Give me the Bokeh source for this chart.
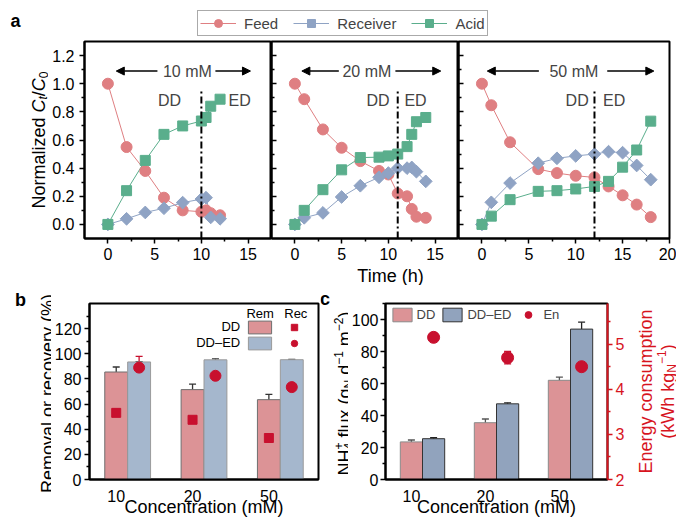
import math
import numpy as np
from bokeh.plotting import figure
from bokeh.layouts import column, row
from bokeh.models import (Range1d, FixedTicker, LinearAxis, Label, Legend, LegendItem,
                          ColumnDataSource, Whisker, TeeHead, Arrow, NormalHead,
                          CustomJSTickFormatter, NumeralTickFormatter)
from bokeh.embed import file_html
from bokeh.resources import INLINE

FONT = "Liberation Sans"

# ---------------- data: panel a ----------------
time_10 = [0, 2, 4, 6, 8, 10, 10.5, 11, 12]
feed_10 = [1.0, 0.55, 0.38, 0.19, 0.10, 0.09, 0.10, 0.08, 0.065]
recv_10 = [0.0, 0.04, 0.085, 0.115, 0.155, 0.18, 0.19, 0.05, 0.04]
acid_10 = [0.0, 0.24, 0.455, 0.64, 0.70, 0.735, 0.76, 0.84, 0.89]

time_20 = [0, 1, 3, 5, 7, 9, 10, 11, 12, 12.5, 13, 14]
feed_20 = [1.0, 0.89, 0.675, 0.545, 0.45, 0.38, 0.355, 0.22, 0.20, 0.11, 0.055, 0.047]
recv_20 = [0.0, 0.047, 0.082, 0.195, 0.275, 0.335, 0.365, 0.40, 0.40, 0.405, 0.375, 0.306]
acid_20 = [0.0, 0.10, 0.247, 0.388, 0.475, 0.478, 0.487, 0.50, 0.553, 0.64, 0.73, 0.76]

time_50 = [0, 1, 3, 6, 8, 10, 12, 13.5, 15, 16.5, 18]
feed_50 = [1.0, 0.847, 0.584, 0.393, 0.365, 0.346, 0.334, 0.27, 0.207, 0.141, 0.052]
recv_50 = [0.0, 0.157, 0.294, 0.435, 0.47, 0.487, 0.50, 0.517, 0.51, 0.419, 0.318]
acid_50 = [0.0, 0.059, 0.176, 0.235, 0.24, 0.252, 0.27, 0.306, 0.407, 0.529, 0.734]

feed_conc_labels = ["10 mM", "20 mM", "50 mM"]
switch_time = [10, 11, 12]

# ---------------- data: panels b, c ----------------
concentrations = ["10", "20", "50"]
dd_removal = [85.5, 71.5, 63.5]
dd_removal_err = [4.0, 4.4, 4.2]
dded_removal = [93.5, 95.2, 95.3]
dded_removal_err = [0.0, 0.8, 0.3]
dd_recovery = [53.0, 47.5, 33.0]
dd_recovery_err = [4.6, 6.0, 4.4]
dded_recovery = [89.0, 82.5, 73.5]
dded_recovery_err = [9.0, 3.3, 5.6]

dd_flux = [23.5, 35.5, 62.0]
dd_flux_err = [1.2, 2.3, 2.0]
dded_flux = [25.5, 47.3, 94.0]
dded_flux_err = [0.6, 0.6, 4.3]
energy = [5.15, 4.70, 4.50]
energy_err = [0.10, 0.14, 0.28]

# ---------------- style ----------------
FEED = "#df7f82"
RECV = "#8fa3c4"
ACID = "#5aae8c"
PINK = "#dc9396"
BLUE_B = "#a5b7cd"
BLUE_C = "#91a3bd"
RED = "#c8102e"
AXRED = "#d7141e"

W_EM = {' ': 0.278, '(': 0.333, ')': 0.333, '/': 0.278, '+': 0.584, '\u2212': 0.584, '%': 0.889,
        'C': 0.722, 'N': 0.722, 'H': 0.722, 'W': 0.944, 'E': 0.667, 'R': 0.722,
        'a': 0.556, 'c': 0.5, 'd': 0.556, 'e': 0.556, 'f': 0.278, 'g': 0.556, 'h': 0.556,
        'i': 0.222, 'k': 0.5, 'l': 0.222, 'm': 0.833, 'n': 0.556, 'o': 0.556, 'p': 0.556,
        'r': 0.333, 's': 0.5, 't': 0.278, 'u': 0.556, 'v': 0.5, 'x': 0.5, 'y': 0.5, 'z': 0.5}
for _d in "0123456789":
    W_EM[_d] = 0.556


def tw(s, size):
    return sum(W_EM.get(ch, 0.556) for ch in s) * size


def plabel(p, fl, fb, px, py, text, size=16, color="black", align="center",
           baseline="middle", angle=0.0, style="normal"):
    """Label placed by page position; (fl, fb) = page x of frame left, page y of frame bottom."""
    p.add_layout(Label(x=px - fl, y=fb - py, x_units="screen", y_units="screen", text=text,
                       angle=angle, text_align=align, text_baseline=baseline,
                       text_font=FONT, text_font_size=f"{size}px", text_font_style=style,
                       text_color=color))


def vtext(p, fl, fb, base_x, center_y, pieces, color="black"):
    """Vertical (rotated 90deg) rich text built from pieces."""
    advs = [pc[4] if len(pc) > 4 else tw(pc[0], pc[1]) for pc in pieces]
    y = center_y + sum(advs) / 2.0
    for pc, adv in zip(pieces, advs):
        txt, size, style, shift = pc[:4]
        lead = len(txt) - len(txt.lstrip(" "))
        yy = y - tw(" " * lead, size)
        plabel(p, fl, fb, base_x + shift, yy, txt.strip(" "), size=size, color=color,
               align="left", baseline="alphabetic", angle=math.pi / 2, style=style)
        y -= adv


def style_axis(ax, ticks, minor, inward=False, labels=True, color="black", fmt=None):
    ax.ticker = FixedTicker(ticks=ticks, minor_ticks=minor)
    ax.axis_line_color = color
    ax.axis_line_width = 2
    ax.major_tick_line_color = color
    ax.minor_tick_line_color = color
    ax.major_tick_line_width = 1.5
    ax.minor_tick_line_width = 1.5
    if inward:
        ax.major_tick_in, ax.major_tick_out = 5, 0
        ax.minor_tick_in, ax.minor_tick_out = 3, 0
    else:
        ax.major_tick_in, ax.major_tick_out = 0, 5
        ax.minor_tick_in, ax.minor_tick_out = 0, 3
    ax.major_label_text_font = FONT
    ax.major_label_text_font_size = "16px"
    ax.major_label_text_color = color
    if not labels:
        ax.formatter = CustomJSTickFormatter(code="return ''")
        ax.major_label_standoff = 0
    elif fmt is not None:
        ax.formatter = fmt


def base_fig(width, height, xr, yr, bl, br, bt, bb):
    p = figure(width=width, height=height, x_range=Range1d(*xr), y_range=Range1d(*yr),
               output_backend="svg", toolbar_location=None,
               min_border_left=bl, min_border_right=br, min_border_top=bt, min_border_bottom=bb)
    p.grid.visible = False
    p.outline_line_color = "black"
    p.outline_line_width = 2
    p.background_fill_color = "white"
    p.border_fill_color = "white"
    return p


def strip(width, height):
    """Plot without axes whose frame is the whole canvas; holds free text."""
    s = figure(width=width, height=height, x_range=Range1d(0, 1), y_range=Range1d(0, 1),
               output_backend="svg", toolbar_location=None, min_border=0,
               x_axis_location=None, y_axis_location=None)
    s.grid.visible = False
    s.outline_line_color = None
    try:
        s.frame_align = False
    except Exception:
        pass
    return s


# ---------------- header (legend of panel a) ----------------
hdr = strip(676, 38)
nan_src = ColumnDataSource(dict(x=[np.nan], y=[np.nan]))
lf = hdr.line("x", "y", source=nan_src, color=FEED, line_width=1)
sf = hdr.scatter("x", "y", source=nan_src, marker="circle", size=11, color=FEED)
lr = hdr.line("x", "y", source=nan_src, color=RECV, line_width=1)
sr = hdr.scatter("x", "y", source=nan_src, marker="square", angle=math.pi / 4, size=9, color=RECV)
la = hdr.line("x", "y", source=nan_src, color=ACID, line_width=1)
sa = hdr.scatter("x", "y", source=nan_src, marker="square", size=10, color=ACID)
top_leg = Legend(items=[LegendItem(label="Feed", renderers=[lf, sf]),
                        LegendItem(label="Receiver", renderers=[lr, sr]),
                        LegendItem(label="Acid", renderers=[la, sa])],
                 orientation="horizontal", location=(197, 2), glyph_width=36, glyph_height=20,
                 label_standoff=8, spacing=15, padding=2, margin=0, label_width=0, label_height=0,
                 label_text_font=FONT, label_text_font_size="15px",
                 border_line_color="#555555", border_line_width=1.5)
hdr.add_layout(top_leg)
plabel(hdr, 0, 38, 15, 20, "a", size=18, style="bold")

# ---------------- panel a ----------------
A_H = 229  # row of panel a: page y 38 .. 267, frame 41 .. 238
a_series = [(time_10, feed_10, recv_10, acid_10),
            (time_20, feed_20, recv_20, acid_20),
            (time_50, feed_50, recv_50, acid_50)]
a_geom = [dict(width=223, bl=36, br=0, xr=(-2.5, 17.5)),
          dict(width=187, bl=0, br=0, xr=(-2.5, 17.5)),
          dict(width=218, bl=0, br=7, xr=(-2.5, 20))]
a_annot = [dict(tx=8.5, arrows=(0.9, 5.3, 11.5, 15.25), dd=6.6, ed=14.1),
           dict(tx=7.7, arrows=(0.75, 4.7, 10.75, 15.6), dd=8.9, ed=12.9),
           dict(tx=9.8, arrows=(0.57, 6.07, 13.36, 18.33), dd=10.15, ed=14.1)]

a_figs = []
for i in range(3):
    g = a_geom[i]
    t, fd, rv, ac = a_series[i]
    p = base_fig(g["width"], A_H, g["xr"], (-0.1, 1.3), g["bl"], g["br"], 3, 29)
    xt = [0, 5, 10, 15] + ([20] if i == 2 else [])
    xm = [2.5, 7.5, 12.5] + ([17.5] if i == 2 else [])
    style_axis(p.xaxis[0], xt, xm)
    p.xaxis[0].major_label_standoff = 4
    style_axis(p.yaxis[0], [0, 0.2, 0.4, 0.6, 0.8, 1.0, 1.2],
               [0.1, 0.3, 0.5, 0.7, 0.9, 1.1], inward=(i > 0), labels=(i == 0),
               fmt=NumeralTickFormatter(format="0.0"))
    src = ColumnDataSource(dict(t=t, feed=fd, recv=rv, acid=ac))
    p.line("t", "feed", source=src, color=FEED, line_width=1)
    p.line("t", "recv", source=src, color=RECV, line_width=1)
    p.line("t", "acid", source=src, color=ACID, line_width=1)
    p.scatter("t", "feed", source=src, marker="circle", size=11, color=FEED)
    p.scatter("t", "recv", source=src, marker="square", angle=math.pi / 4, size=9, color=RECV)
    p.scatter("t", "acid", source=src, marker="square", size=10, color=ACID)
    sw = switch_time[i]
    p.segment(x0=[sw], y0=[-0.1], x1=[sw], y1=[0.96], color="black", line_width=2,
              line_dash="7 3 2 3")
    an = a_annot[i]
    p.add_layout(Label(x=an["tx"], y=1.09, text=feed_conc_labels[i], text_align="center",
                       text_baseline="middle", text_font=FONT, text_font_size="16px"))
    p.add_layout(Label(x=an["dd"], y=0.88, text="DD", text_align="center",
                       text_baseline="middle", text_font=FONT, text_font_size="16px"))
    p.add_layout(Label(x=an["ed"], y=0.88, text="ED", text_align="center",
                       text_baseline="middle", text_font=FONT, text_font_size="16px"))
    l0, l1, r0, r1 = an["arrows"]
    p.add_layout(Arrow(end=NormalHead(size=8, fill_color="black", line_color="black"),
                       x_start=l1, y_start=1.09, x_end=l0, y_end=1.09, line_width=1.5))
    p.add_layout(Arrow(end=NormalHead(size=8, fill_color="black", line_color="black"),
                       x_start=r0, y_start=1.09, x_end=r1, y_end=1.09, line_width=1.5))
    a_figs.append(p)

strip_ya = strip(48, A_H)   # page x 0..48, y 38..267
vtext(strip_ya, 0, 267, 38.5, 139.5,
      [("Normalized ", 18, "normal", 0), ("C", 18, "italic", 0), ("t", 12, "italic", 4),
       ("/", 18, "normal", 0), ("C", 18, "italic", 0), ("0", 12, "normal", 4)])

time_strip = strip(676, 18)  # page y 267..285
plabel(time_strip, 0, 285, 390, 275.5, "Time (h)", size=18)

# ---------------- panel b ----------------
BC_H = 234  # row of panels b, c: page y 285 .. 519, frame 303 .. 479
gx = [i + 1 for i in range(len(concentrations))]
x_dd = gx
x_dded = [g + 0.3 for g in gx]


def cat_axis(ax):
    style_axis(ax, gx, [])
    ax.major_tick_out = 0
    ax.major_label_standoff = 10
    ax.major_label_overrides = {g: c for g, c in zip(gx, concentrations)}
    ax.axis_label = "Concentration (mM)"
    ax.axis_label_text_font = FONT
    ax.axis_label_text_font_size = "18px"
    ax.axis_label_text_font_style = "normal"
    ax.axis_label_text_color = "black"
    ax.axis_label_standoff = -8


pb = base_fig(269, BC_H, (0.65, 3.65), (0, 140), 35, 2, 18, 40)
style_axis(pb.yaxis[0], [0, 20, 40, 60, 80, 100, 120], [10, 30, 50, 70, 90, 110, 130])
pb.yaxis[0].major_label_standoff = 3
cat_axis(pb.xaxis[0])

rb1 = pb.vbar(x=x_dd, top=dd_removal, width=0.3, fill_color=PINK, line_color="#6f6f6f", line_width=1)
rb2 = pb.vbar(x=x_dded, top=dded_removal, width=0.3, fill_color=BLUE_B, line_color="#9a9a9a", line_width=1)
for xs, vals, errs, col in [(x_dd, dd_removal, dd_removal_err, "#333333"),
                            (x_dded, dded_removal, dded_removal_err, "#333333"),
                            (x_dd, dd_recovery, dd_recovery_err, RED),
                            (x_dded, dded_recovery, dded_recovery_err, RED)]:
    s = ColumnDataSource(dict(x=xs, up=[v + e for v, e in zip(vals, errs)],
                              lo=[v - e for v, e in zip(vals, errs)]))
    pb.add_layout(Whisker(source=s, base="x", upper="up", lower="lo", line_color=col, line_width=1.3,
                          upper_head=TeeHead(size=7, line_color=col, line_width=1.3),
                          lower_head=TeeHead(size=7, line_color=col, line_width=1.3)))
rs1 = pb.scatter(x=x_dd, y=dd_recovery, marker="square", size=9, color=RED)
rs2 = pb.scatter(x=x_dded, y=dded_recovery, marker="circle", size=11, color=RED)

leg_rem = Legend(items=[LegendItem(label=" ", renderers=[rb1]), LegendItem(label=" ", renderers=[rb2])],
                 orientation="vertical", location=(156.2, 128.25), glyph_width=29, glyph_height=16,
                 padding=0, margin=0, spacing=0, label_standoff=0, label_width=0, label_height=0,
                 label_text_font_size="1px", border_line_alpha=0, background_fill_alpha=0)
leg_rec = Legend(items=[LegendItem(label=" ", renderers=[rs1]), LegendItem(label=" ", renderers=[rs2])],
                 orientation="vertical", location=(194.7, 128.25), glyph_width=20, glyph_height=16,
                 padding=0, margin=0, spacing=0, label_standoff=0, label_width=0, label_height=0,
                 label_text_font_size="1px", border_line_alpha=0, background_fill_alpha=0)
pb.add_layout(leg_rem)
pb.add_layout(leg_rec)
plabel(pb, 86, 479, 256.7, 312.7, "Rem", size=13)
plabel(pb, 86, 479, 292.3, 312.7, "Rec", size=13)
plabel(pb, 86, 479, 236.7, 326, "DD", size=13, align="right")
plabel(pb, 86, 479, 236.7, 342.3, "DD\u2013ED", size=13, align="right")

strip_yb = strip(51, BC_H)  # page x 0..51, y 285..519
plabel(strip_yb, 0, 519, 20, 299, "b", size=18, style="bold")
vtext(strip_yb, 0, 519, 47, 393, [("Removal or recovery (%)", 18, "normal", 0)])

# ---------------- panel c ----------------
pc = base_fig(279, BC_H, (0.65, 3.65), (0, 110), 35, 20, 18, 40)
pc.extra_y_ranges = {"en": Range1d(2, 5.9)}
style_axis(pc.yaxis[0], [0, 20, 40, 60, 80, 100], [10, 30, 50, 70, 90, 110])
pc.yaxis[0].major_label_standoff = 2
cat_axis(pc.xaxis[0])
rax = LinearAxis(y_range_name="en")
style_axis(rax, [2, 3, 4, 5], [2.5, 3.5, 4.5, 5.5], color=AXRED)
rax.major_label_standoff = 3
pc.add_layout(rax, "right")

rc1 = pc.vbar(x=x_dd, top=dd_flux, width=0.3, fill_color=PINK, line_color="#8a8a8a", line_width=1)
rc2 = pc.vbar(x=x_dded, top=dded_flux, width=0.3, fill_color=BLUE_C, line_color="#333333", line_width=1)
for xs, vals, errs, col, rn in [(x_dd, dd_flux, dd_flux_err, "#555555", "default"),
                                (x_dded, dded_flux, dded_flux_err, "#222222", "default"),
                                (x_dded, energy, energy_err, RED, "en")]:
    s = ColumnDataSource(dict(x=xs, up=[v + e for v, e in zip(vals, errs)],
                              lo=[v - e for v, e in zip(vals, errs)]))
    pc.add_layout(Whisker(source=s, base="x", upper="up", lower="lo", line_color=col, line_width=1.3,
                          y_range_name=rn,
                          upper_head=TeeHead(size=7, line_color=col, line_width=1.3),
                          lower_head=TeeHead(size=7, line_color=col, line_width=1.3)))
rc3 = pc.scatter(x=x_dded, y=energy, marker="circle", size=12, color=RED, y_range_name="en")
leg_c = Legend(items=[LegendItem(label="DD", renderers=[rc1]),
                      LegendItem(label="DD\u2013ED", renderers=[rc2]),
                      LegendItem(label="En", renderers=[rc3])],
               orientation="horizontal", location=(4.6, 155.7), glyph_width=24, glyph_height=17,
               padding=0, margin=0, spacing=5, label_standoff=3, label_width=0, label_height=0,
               label_text_font=FONT, label_text_font_size="13px",
               border_line_alpha=0, background_fill_alpha=0)
pc.add_layout(leg_c)

strip_yc = strip(28, BC_H)  # page x 320..348, y 285..519
plabel(strip_yc, 320, 519, 324.5, 298, "c", size=18, style="bold")
vtext(strip_yc, 320, 519, 344, 393,
      [("NH", 18, "normal", 0), ("4", 12, "normal", 4, 0), ("+", 12, "normal", -6.5),
       (" flux (g", 18, "normal", 0), ("N", 12, "normal", 4), (" d", 18, "normal", 0),
       ("\u22121", 12, "normal", -6.5), (" m", 18, "normal", 0), ("\u22122", 12, "normal", -6.5),
       (")", 18, "normal", 0)])

strip_yr = strip(49, BC_H)  # page x 627..676, y 285..519
vtext(strip_yr, 627, 519, 645, 391, [("Energy consumption", 18, "normal", 0)], color=AXRED)
vtext(strip_yr, 627, 519, 667, 391,
      [("(kWh kg", 18, "normal", 0), ("N", 12, "normal", 4), ("\u22121", 12, "normal", -6.5),
       (")", 18, "normal", 0)], color=AXRED)

layout = column(hdr,
                row(strip_ya, *a_figs),
                time_strip,
                row(strip_yb, pb, strip_yc, pc, strip_yr))
open("out.html", "w").write(file_html(layout, INLINE))
